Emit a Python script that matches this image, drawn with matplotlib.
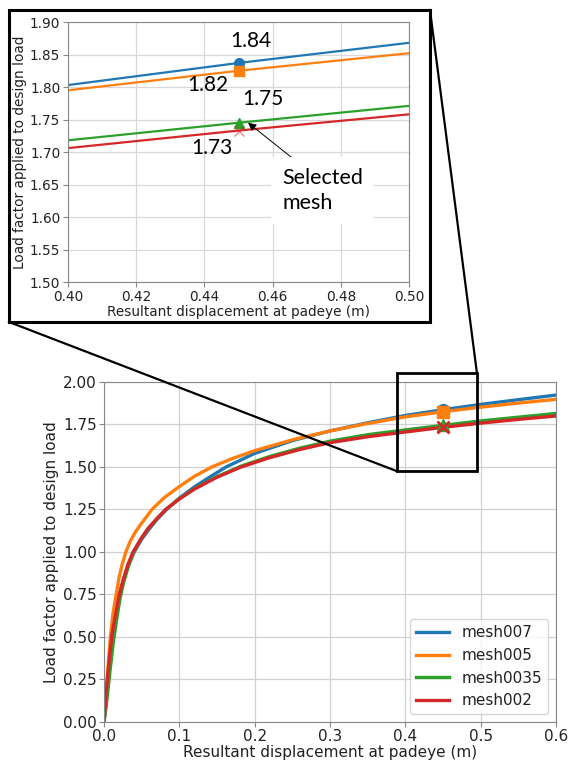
import matplotlib
matplotlib.use("Agg")
import matplotlib.pyplot as plt
from matplotlib.patches import Rectangle
from matplotlib.lines import Line2D

# load factor vs resultant displacement
x_007 = [0, 0.002, 0.004, 0.006, 0.0085, 0.0115, 0.015, 0.0205, 0.026, 0.032, 0.04, 0.05,
         0.06, 0.07, 0.083, 0.1, 0.12, 0.14, 0.162, 0.2, 0.25, 0.3, 0.35, 0.4, 0.45,
         0.5, 0.55, 0.6]
y_007 = [0, 0.08, 0.17, 0.25, 0.37, 0.50, 0.61, 0.75, 0.84, 0.92, 1.00, 1.075,
         1.135, 1.19, 1.25, 1.317, 1.383, 1.44, 1.50, 1.58, 1.655, 1.712, 1.76, 1.803, 1.837,
         1.868, 1.896, 1.923]

x_005 = [0, 0.002, 0.004, 0.006, 0.0085, 0.012, 0.0162, 0.02, 0.024, 0.029, 0.035, 0.042,
         0.05, 0.0636, 0.08, 0.1, 0.12, 0.143, 0.17, 0.2, 0.25, 0.3, 0.343, 0.4, 0.45,
         0.5, 0.55, 0.6]
y_005 = [0, 0.13, 0.25, 0.36, 0.50, 0.64, 0.75, 0.85, 0.925, 1.00, 1.065, 1.12,
         1.17, 1.25, 1.32, 1.385, 1.445, 1.50, 1.549, 1.596, 1.66, 1.712, 1.75, 1.795, 1.825,
         1.852, 1.876, 1.898]

x_0035 = [0, 0.003, 0.006, 0.009, 0.0124, 0.016, 0.021, 0.026, 0.032, 0.0386, 0.048, 0.058,
          0.07, 0.082, 0.1, 0.12, 0.15, 0.182, 0.22, 0.26, 0.3, 0.35, 0.4, 0.45, 0.5,
          0.55, 0.6]
y_0035 = [0, 0.10, 0.22, 0.34, 0.47, 0.58, 0.72, 0.82, 0.91, 0.99, 1.07, 1.135,
          1.195, 1.25, 1.313, 1.372, 1.443, 1.505, 1.562, 1.611, 1.652, 1.69, 1.718, 1.745, 1.771,
          1.793, 1.815]

x_002 = [0, 0.002, 0.0044, 0.007, 0.0102, 0.014, 0.0203, 0.026, 0.032, 0.0386, 0.048, 0.058,
         0.07, 0.082, 0.1, 0.12, 0.15, 0.182, 0.22, 0.26, 0.3, 0.35, 0.4, 0.45, 0.5,
         0.55, 0.6]
y_002 = [0, 0.12, 0.25, 0.37, 0.50, 0.60, 0.75, 0.845, 0.93, 1.00, 1.07, 1.135,
         1.195, 1.25, 1.312, 1.37, 1.44, 1.50, 1.555, 1.603, 1.643, 1.678, 1.706, 1.733, 1.758,
         1.78, 1.80]

labels = ["mesh007", "mesh005", "mesh0035", "mesh002"]
colors = ["#1f77b4", "#ff7f0e", "#2ca02c", "#d62728"]
markers = ["o", "s", "^", "x"]

# values at the chosen displacement
sel_x = 0.45
sel_y = [1.837, 1.825, 1.745, 1.733]
sel_text = ["1.84", "1.82", "1.75", "1.73"]
sel_text_pos = [(0.4537, 1.871), (0.4410, 1.803), (0.4572, 1.7815), (0.4422, 1.706)]

# zoomed region marked on the main plot
zoom_x = (0.389, 0.495)
zoom_y = (1.475, 2.053)

series = [(x_007, y_007), (x_005, y_005), (x_0035, y_0035), (x_002, y_002)]

plt.rcParams["axes.edgecolor"] = "#888888"
plt.rcParams["xtick.color"] = "#888888"
plt.rcParams["ytick.color"] = "#888888"
plt.rcParams["xtick.labelcolor"] = "#222222"
plt.rcParams["ytick.labelcolor"] = "#222222"
plt.rcParams["text.color"] = "#222222"
plt.rcParams["axes.labelcolor"] = "#222222"

fig = plt.figure(figsize=(5.68, 7.62), dpi=100)

# main plot
ax = fig.add_axes([0.1831, 0.0525, 0.7958, 0.4462])
for (xs, ys), lab, c in zip(series, labels, colors):
    ax.plot(xs, ys, color=c, lw=2.4, label=lab)
for yv, c, m in zip(sel_y, colors, markers):
    ax.plot(sel_x, yv, marker=m, color=c, ms=8.5, mew=2 if m == "x" else 1, ls="none")
ax.set_xlim(0, 0.6)
ax.set_ylim(0, 2.0)
ax.set_xticks([0, 0.1, 0.2, 0.3, 0.4, 0.5, 0.6])
ax.set_yticks([0, 0.25, 0.5, 0.75, 1.0, 1.25, 1.5, 1.75, 2.0])
ax.yaxis.set_major_formatter(matplotlib.ticker.FormatStrFormatter("%.2f"))
ax.xaxis.set_major_formatter(matplotlib.ticker.FormatStrFormatter("%.1f"))
ax.tick_params(labelsize=11, pad=1.5)
ax.grid(True, color="#d0d0d0", lw=0.9)
ax.set_xlabel("Resultant displacement at padeye (m)", fontsize=11, labelpad=0.5)
ax.set_ylabel("Load factor applied to design load", fontsize=11, labelpad=3)
ax.legend(loc="lower right", fontsize=11, handlelength=2.2)

rect = Rectangle((zoom_x[0], zoom_y[0]), zoom_x[1] - zoom_x[0], zoom_y[1] - zoom_y[0],
                 fill=False, ec="black", lw=2, clip_on=False, zorder=10)
ax.add_patch(rect)

# zoomed plot
ax2 = fig.add_axes([0.1197, 0.6299, 0.6004, 0.3412])
for (xs, ys), c in zip(series, colors):
    ax2.plot(xs, ys, color=c, lw=1.6)
for yv, c, m in zip(sel_y, colors, markers):
    ax2.plot(sel_x, yv, marker=m, color=c, ms=7, ls="none",
             alpha=0.55 if m == "x" else 1)
ax2.set_xlim(0.40, 0.50)
ax2.set_ylim(1.50, 1.90)
ax2.set_xticks([0.40, 0.42, 0.44, 0.46, 0.48, 0.50])
ax2.set_yticks([1.50, 1.55, 1.60, 1.65, 1.70, 1.75, 1.80, 1.85, 1.90])
ax2.yaxis.set_major_formatter(matplotlib.ticker.FormatStrFormatter("%.2f"))
ax2.xaxis.set_major_formatter(matplotlib.ticker.FormatStrFormatter("%.2f"))
ax2.tick_params(labelsize=9.8, pad=2)
ax2.grid(True, color="#d8d8d8", lw=0.9)
ax2.set_xlabel("Resultant displacement at padeye (m)", fontsize=9.8, labelpad=1)
ax2.set_ylabel("Load factor applied to design load", fontsize=9.8, labelpad=2)

for t, (tx, ty) in zip(sel_text, sel_text_pos):
    ax2.text(tx, ty, t, fontsize=15, family="Lato", color="black", ha="center", va="center")

ax2.annotate("Selected\nmesh", xy=(0.4528, 1.745), xytext=(0.4628, 1.641),
             fontsize=15.5, family="Lato", color="black", ha="left", va="center",
             linespacing=1.3,
             bbox=dict(boxstyle="square,pad=0.5", fc="white", ec="none"),
             arrowprops=dict(arrowstyle="-|>", color="black", lw=0.7,
                             shrinkA=0, shrinkB=0, mutation_scale=12,
                             relpos=(0.28, 1.0)))

# frame around the zoomed plot and the lines tying it to the box
box = Rectangle((0.01585, 0.57743), 0.7570 - 0.01585, 0.98688 - 0.57743,
                transform=fig.transFigure, fill=False, ec="black", lw=2.2)
fig.patches.append(box)

to_fig = fig.transFigure.inverted()
bl = to_fig.transform(ax.transData.transform((zoom_x[0], zoom_y[0])))
tr = to_fig.transform(ax.transData.transform((zoom_x[1], zoom_y[1])))
fig.lines.append(Line2D([0.01585, bl[0]], [0.57743, bl[1]], transform=fig.transFigure,
                        color="black", lw=1.6, zorder=5))
fig.lines.append(Line2D([0.7570, tr[0]], [0.98688, tr[1]], transform=fig.transFigure,
                        color="black", lw=1.6, zorder=5))

fig.savefig("out.png", dpi=100)
